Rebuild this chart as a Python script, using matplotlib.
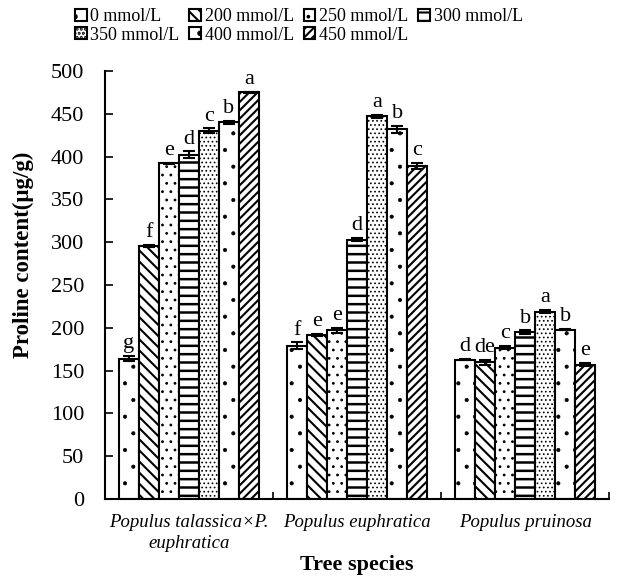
import numpy as np
import matplotlib
matplotlib.use("Agg")
import matplotlib.pyplot as plt

plt.rcParams['font.family'] = ['Liberation Serif', 'DejaVu Serif']
plt.rcParams['hatch.linewidth'] = 1.5

species = ["Populus talassica\u00d7P.\neuphratica", "Populus euphratica", "Populus pruinosa"]
treatments = ["0 mmol/L", "200 mmol/L", "250 mmol/L", "300 mmol/L",
              "350 mmol/L", "400 mmol/L", "450 mmol/L"]

# rows = treatment, columns = species
proline = [
    [164, 179, 163],
    [296, 192, 160],
    [392, 197, 177],
    [402, 303, 195],
    [430, 447, 219],
    [440, 432, 198],
    [475, 389, 157],
]
errors = [
    [3, 4, 1],
    [1, 1, 3],
    [1, 3, 2],
    [4, 2, 2],
    [3, 2, 2],
    [2, 4, 1],
    [1, 4, 2],
]
letters = [
    ["g", "f", "d"],
    ["f", "e", "de"],
    ["e", "e", "c"],
    ["d", "d", "b"],
    ["c", "a", "a"],
    ["b", "b", "b"],
    ["a", "c", "e"],
]

hatches = ['.', '\\\\\\', '..', '--', '....', '.', '////']
hatch_lw = [0.5, 1.5, 0.8, 1.8, 0.7, 0.5, 1.5]

fig = plt.figure(figsize=(6.21, 5.77), dpi=100)
ax = fig.add_axes([0.169, 0.135, 0.812, 0.742])

x = np.arange(len(species))
w = 0.119
handles = []
for j, name in enumerate(treatments):
    pos = x + (j - 3) * w
    with plt.rc_context({'hatch.linewidth': hatch_lw[j]}):
        bars = ax.bar(pos, proline[j], width=w, color="white", edgecolor="black",
                      linewidth=1.5, hatch=hatches[j], label=name, zorder=2)
    handles.append(bars)
    ax.errorbar(pos, proline[j], yerr=errors[j], fmt='none', ecolor='black',
                elinewidth=1.5, capsize=4, capthick=1.5, zorder=3)
    for k in range(len(species)):
        ax.annotate(letters[j][k], (pos[k], proline[j][k] + errors[j][k]),
                    xytext=(0, 2), textcoords='offset points',
                    ha='center', va='bottom', fontsize=16)

ax.set_xlim(-0.5, 2.5)
ax.set_ylim(0, 500)
ax.set_yticks(np.arange(0, 501, 50))
ax.tick_params(axis='y', direction='in', length=6, width=1.2, labelsize=16, pad=15)
ax.set_xticks([-0.5, 0.5, 1.5, 2.5])
ax.set_xticklabels([])
ax.tick_params(axis='x', which='major', direction='in', length=5, width=1.2)
ax.set_xticks(x, minor=True)
ax.set_xticklabels(species, minor=True, fontsize=13.5, style='italic', linespacing=1.3)
ax.tick_params(axis='x', which='minor', length=0, pad=11)

for s in ['top', 'right']:
    ax.spines[s].set_visible(False)
for s in ['left', 'bottom']:
    ax.spines[s].set_linewidth(1.5)

ax.set_ylabel("Proline content(\u03bcg/g)", fontsize=16.5, fontweight='bold')
ax.yaxis.set_label_coords(-0.14, 0.57)
ax.set_xlabel("Tree species", fontsize=16, fontweight='bold', labelpad=2)

order = [0, 4, 1, 5, 2, 6, 3]
fig.legend([handles[i] for i in order], [treatments[i] for i in order],
           loc='upper left', bbox_to_anchor=(0.103, 1.005), ncol=4, frameon=False,
           fontsize=13, handlelength=0.65, handleheight=0.65, handletextpad=0.2,
           columnspacing=0.55, labelspacing=0.1, borderaxespad=0.2)

fig.savefig("out.png", dpi=100)
